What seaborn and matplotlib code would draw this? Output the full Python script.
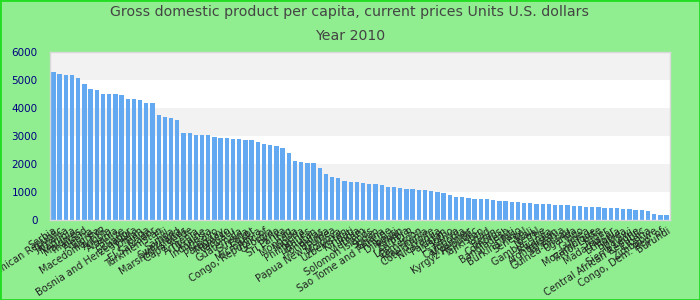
import matplotlib
matplotlib.use("Agg")
import matplotlib.pyplot as plt
import seaborn as sns
import pandas as pd
from matplotlib.patches import Rectangle

countries = [
    "Serbia", "Dominican Republic", "Jamaica", "Namibia", "Maldives",
    "Thailand", "Algeria", "Tunisia", "Macedonia, FYR", "Angola",
    "Albania", "Belize", "Ecuador", "Bosnia and Herzegovina", "Jordan",
    "Tonga", "El Salvador", "Turkmenistan", "Fiji", "Samoa",
    "Swaziland", "Marshall Islands", "Cape Verde", "Armenia", "Ukraine",
    "Indonesia", "Kosovo", "Paraguay", "Morocco", "Vanuatu",
    "Guatemala", "Guyana", "Egypt", "Micronesia", "Congo, Republic of",
    "Georgia", "Syria", "Sri Lanka", "Iraq", "Mongolia",
    "Nigeria", "Philippines", "Bhutan", "Honduras", "Bolivia",
    "Papua New Guinea", "Moldova", "Uzbekistan", "Kiribati", "India",
    "Vietnam", "Solomon Islands", "Sudan", "Ghana", "Sao Tome and Principe",
    "Djibouti", "Yemen", "Zambia", "Lao P.D.R.", "Cameroon",
    "Mauritania", "Cote d'Ivoire", "Nicaragua", "Pakistan", "Lesotho",
    "Kenya", "Cambodia", "Myanmar", "Kyrgyz Republic", "Tajikistan",
    "Chad", "Benin", "Comoros", "Bangladesh", "Haiti",
    "Burkina Faso", "Senegal", "Mali", "Nepal", "Gambia, The",
    "Rwanda", "Afghanistan", "Tanzania", "Guinea-Bissau", "Uganda",
    "Togo", "Guinea", "Mozambique", "Timor-Leste", "Niger",
    "Madagascar", "Ethiopia", "Eritrea", "Malawi", "Sierra Leone",
    "Central African Republic", "Liberia", "Zimbabwe", "Congo, Dem. Rep. of", "Burundi",
]

gdp_per_capita = [
    5273, 5202, 5166, 5166, 5059, 4846, 4667, 4632, 4489, 4489,
    4489, 4454, 4311, 4311, 4276, 4169, 4169, 3741, 3670, 3634,
    3563, 3100, 3100, 3029, 3029, 3029, 2957, 2922, 2922, 2886,
    2886, 2850, 2850, 2779, 2708, 2672, 2637, 2565, 2387, 2102,
    2067, 2031, 2031, 1853, 1639, 1532, 1496, 1390, 1354, 1354,
    1318, 1283, 1283, 1247, 1176, 1176, 1140, 1105, 1105, 1069,
    1069, 1033, 998, 962, 891, 819, 819, 784, 748, 748,
    748, 713, 677, 677, 641, 641, 606, 606, 570, 570,
    570, 534, 534, 534, 499, 499, 463, 463, 463, 428,
    428, 428, 392, 392, 356, 356, 321, 214, 178, 178,
]

y_ticks = [0, 1000, 2000, 3000, 4000, 5000, 6000]
title_lines = ["Gross domestic product per capita, current prices Units U.S. dollars",
               "Year 2010"]

df = pd.DataFrame({"country": countries, "value": gdp_per_capita})

sns.set_style("white")
plt.rcParams["font.family"] = ["DejaVu Sans"]

fig = plt.figure(figsize=(7, 3), dpi=100, facecolor="#90ee90")
ax = fig.add_axes([50 / 700, 80 / 300, 620 / 700, 168.5 / 300])
ax.set_facecolor("white")

# alternating bands
for i, lo in enumerate(y_ticks[:-1]):
    if i % 2 == 1:
        ax.axhspan(lo, y_ticks[i + 1], color="#f2f2f2", zorder=0, lw=0)

sns.barplot(data=df, x="country", y="value", order=countries,
            color="#63a9f1", saturation=1, width=0.7, ax=ax, zorder=2,
            linewidth=0)

ax.set_xlim(-0.55, len(countries) - 0.45)
ax.set_ylim(0, 6000)
ax.set_yticks(y_ticks)
ax.set_yticklabels([str(t) for t in y_ticks], color="#000080", fontsize=7.5)
ax.tick_params(axis="y", length=0, pad=9)
ax.tick_params(axis="x", length=0, pad=4)
ax.set_xticks(range(len(countries)))
ax.set_xticklabels(countries, rotation=33, ha="right", rotation_mode="anchor",
                   fontsize=7, color="#222222")
ax.set_xlabel("")
ax.set_ylabel("")
for s in ax.spines.values():
    s.set_visible(True)
    s.set_color("#d8d8d8")
    s.set_linewidth(1)

fig.text(0.5, 1 - 12 / 300, title_lines[0], ha="center", va="center",
         fontsize=10.2, color="#444444")
fig.text(0.5, 1 - 36 / 300, title_lines[1], ha="center", va="center",
         fontsize=10.2, color="#444444")

fig.patches.append(Rectangle((0, 0), 1, 1, transform=fig.transFigure,
                             fill=False, edgecolor="#22dd22", lw=2, zorder=10))

fig.savefig("out.png", dpi=100, facecolor=fig.get_facecolor())
